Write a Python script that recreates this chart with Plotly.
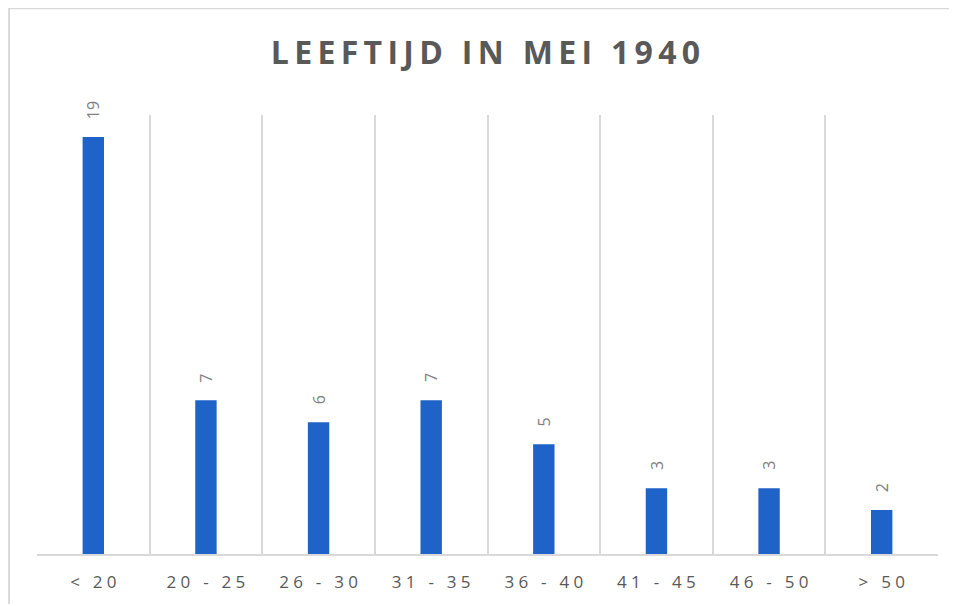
import plotly.graph_objects as go

categories = ["< 20", "20 - 25", "26 - 30", "31 - 35", "36 - 40", "41 - 45", "46 - 50", "> 50"]
counts = [19, 7, 6, 7, 5, 3, 3, 2]
title_text = "LEEFTIJD IN MEI 1940"

GRID = "#d9d9d9"
TEXT = "#595959"


def spaced(s, sep="\u2009"):
    # mimic Excel character spacing
    return sep.join(s)


fig = go.Figure(
    go.Bar(
        x=categories,
        y=counts,
        marker=dict(color="#1f63c8", line=dict(width=0)),
        width=0.19,
        hoverinfo="x+y",
    )
)

for cat, val in zip(categories, counts):
    fig.add_annotation(
        x=cat, y=val, text=str(val), textangle=-90, showarrow=False,
        yanchor="bottom", yshift=16,
        font=dict(family="Open Sans", size=16, color="#808080"),
    )

# outer chart border
fig.add_shape(type="rect", xref="paper", yref="paper",
              x0=-0.031, x1=1.2, y0=-0.5, y1=1.243,
              line=dict(color=GRID, width=2), layer="below")

# the page body adds 8px around the plot, so the figure is sized to fit the window
fig.update_layout(
    width=941, height=596,
    margin=dict(l=29, r=11, t=107, b=48),
    paper_bgcolor="white", plot_bgcolor="white",
    showlegend=False,
    title=dict(
        text=spaced(title_text, "\u2009"),
        x=0.5074, xanchor="center", y=0.924, yanchor="middle",
        font=dict(family="Open Sans", size=32, color=TEXT, weight="bold"),
    ),
    xaxis=dict(
        type="category", tickson="boundaries", showgrid=True, gridcolor=GRID, gridwidth=1.5,
        showline=True, linecolor=GRID, linewidth=2, ticks="", range=[-0.5, 7.5],
        tickmode="array", tickvals=categories, ticktext=[spaced(c, "\u2005") for c in categories],
        tickfont=dict(family="Open Sans", size=17, color=TEXT), ticklabelstandoff=12,
        fixedrange=True,
    ),
    yaxis=dict(range=[0, 20], showgrid=False, zeroline=False, showticklabels=False, fixedrange=True),
)

fig.write_html("out.html")
